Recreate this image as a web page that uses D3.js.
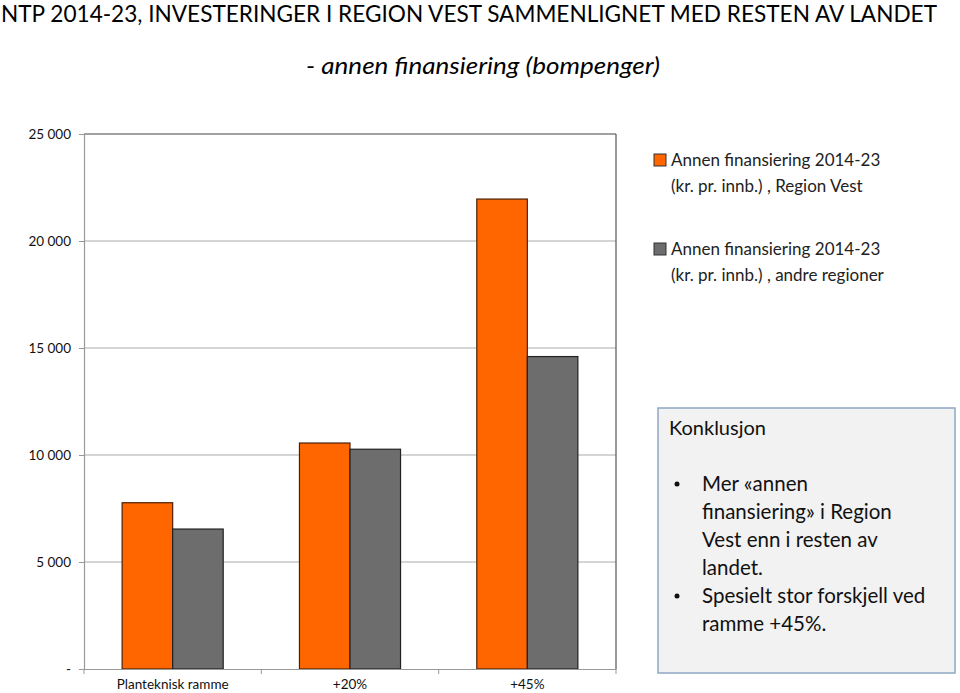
<!DOCTYPE html>
<html><head><meta charset="utf-8">
<script src="https://cdn.jsdelivr.net/npm/d3@7"></script>
<style>
body{margin:0;background:#fff;}
svg{display:block;font-family:Lato,"Open Sans",sans-serif;}
</style></head>
<body>
<svg id="c" width="960" height="693"></svg>
<script>
const categories = ["Planteknisk ramme", "+20%", "+45%"];
const seriesNames = [
  ["Annen finansiering 2014-23", "(kr. pr. innb.) , Region Vest"],
  ["Annen finansiering 2014-23", "(kr. pr. innb.) , andre regioner"]
];
const regionVest = [7770, 10560, 21960];
const andreRegioner = [6540, 10270, 14600];
const yTicks = [0, 5000, 10000, 15000, 20000, 25000];
const yTickLabels = ["-", "5 000", "10 000", "15 000", "20 000", "25 000"];
const colors = ["#ff6600", "#6d6d6d"];
const boxLines = [
  {bullet:true, t:"Mer «annen"},
  {bullet:false, t:"finansiering» i Region"},
  {bullet:false, t:"Vest enn i resten av"},
  {bullet:false, t:"landet."},
  {bullet:true, t:"Spesielt stor forskjell ved"},
  {bullet:false, t:"ramme +45%."}
];

const svg = d3.select("#c");
const L = 84, R = 616, T = 134, B = 669;

// titles
svg.append("text").attr("x", 1).attr("y", 22)
  .attr("font-size", 23).attr("fill", "#000")
  .attr("textLength", 936).attr("lengthAdjust", "spacingAndGlyphs")
  .text("NTP 2014-23, INVESTERINGER I REGION VEST SAMMENLIGNET MED RESTEN AV LANDET");
svg.append("text").attr("x", 306).attr("y", 74)
  .attr("font-size", 23).attr("font-style", "italic").attr("fill", "#000")
  .attr("textLength", 354).attr("lengthAdjust", "spacingAndGlyphs")
  .text("- annen finansiering (bompenger)");

const y = d3.scaleLinear().domain([0, 25000]).range([B, T]);
const x0 = d3.scaleBand().domain(categories).range([L, R]).paddingInner(0.43).paddingOuter(0.215);
const x1 = d3.scaleBand().domain([0, 1]).range([0, x0.bandwidth()]);

// gridlines
svg.append("g").selectAll("line").data(yTicks.filter(d => d > 0 && d < 25000)).join("line")
  .attr("x1", L).attr("x2", R).attr("y1", d => y(d)).attr("y2", d => y(d))
  .attr("stroke", "#ababab").attr("stroke-width", 1.2);

// top & right border
svg.append("line").attr("x1", L).attr("x2", R).attr("y1", T).attr("y2", T).attr("stroke", "#444").attr("stroke-width", 1.2);
svg.append("line").attr("x1", R).attr("x2", R).attr("y1", T).attr("y2", B).attr("stroke", "#555").attr("stroke-width", 1.2);

// bars
const data = categories.map((c, i) => ({c, v: [regionVest[i], andreRegioner[i]]}));
const g = svg.append("g").selectAll("g").data(data).join("g")
  .attr("transform", d => `translate(${x0(d.c)},0)`);
g.selectAll("rect").data(d => d.v.map((v, k) => ({v, k}))).join("rect")
  .attr("x", d => x1(d.k)).attr("width", x1.bandwidth())
  .attr("y", d => y(d.v)).attr("height", d => y(0) - y(d.v))
  .attr("fill", d => colors[d.k])
  .attr("stroke", d => d.k === 0 ? "#4a2008" : "#222").attr("stroke-width", 1.2);

// y axis
const yAxis = d3.axisLeft(y).tickValues(yTicks).tickSize(5).tickPadding(8)
  .tickFormat((d, i) => yTickLabels[i]);
const ya = svg.append("g").attr("transform", `translate(${L},0)`).call(yAxis);
ya.select(".domain").attr("stroke", "#999").attr("stroke-width", 1.2);
ya.selectAll(".tick line").attr("stroke", "#999");
ya.selectAll("text").attr("font-size", 13.5).attr("font-family", "Lato, sans-serif").attr("fill", "#111");

// x axis
const xa = svg.append("g").attr("transform", `translate(0,${B})`)
  .call(d3.axisBottom(x0).tickSize(0).tickPadding(10));
xa.select(".domain").attr("stroke", "#999").attr("stroke-width", 1.2);
xa.selectAll("text").attr("font-size", 13.5).attr("font-family", "Lato, sans-serif").attr("fill", "#111");
// boundary ticks
const step = x0.step();
svg.append("g").selectAll("line").data(d3.range(categories.length + 1)).join("line")
  .attr("x1", i => L + i * step).attr("x2", i => L + i * step)
  .attr("y1", B).attr("y2", B + 5).attr("stroke", "#999");

// legend
const lg = svg.append("g").selectAll("g").data(seriesNames).join("g")
  .attr("transform", (d, i) => `translate(654,${154 + i * 89})`);
lg.append("rect").attr("width", 12).attr("height", 12)
  .attr("fill", (d, i) => colors[i]).attr("stroke", "#333").attr("stroke-width", 1);
lg.each(function(d) {
  const t = d3.select(this).append("text").attr("font-size", 17).attr("fill", "#222");
  d.forEach((line, j) => t.append("tspan").attr("x", 17).attr("y", 12 + j * 26).text(line));
});

// conclusion box
svg.append("rect").attr("x", 658).attr("y", 408).attr("width", 297).attr("height", 265)
  .attr("fill", "#f2f2f2").attr("stroke", "#8ea7c4").attr("stroke-width", 1.5);
svg.append("text").attr("x", 669).attr("y", 435).attr("font-size", 20).attr("fill", "#111").text("Konklusjon");
const bl = svg.append("g").selectAll("g").data(boxLines).join("g");
bl.append("text").attr("x", 702).attr("y", (d, i) => 491 + i * 28)
  .attr("font-size", 20.5).attr("fill", "#111").text(d => d.t);
bl.filter(d => d.bullet).append("circle").attr("cx", 677)
  .each(function(d) {
    const i = boxLines.indexOf(d);
    d3.select(this).attr("cy", 484 + i * 28);
  }).attr("r", 2.5).attr("fill", "#111");
</script>
</body></html>
